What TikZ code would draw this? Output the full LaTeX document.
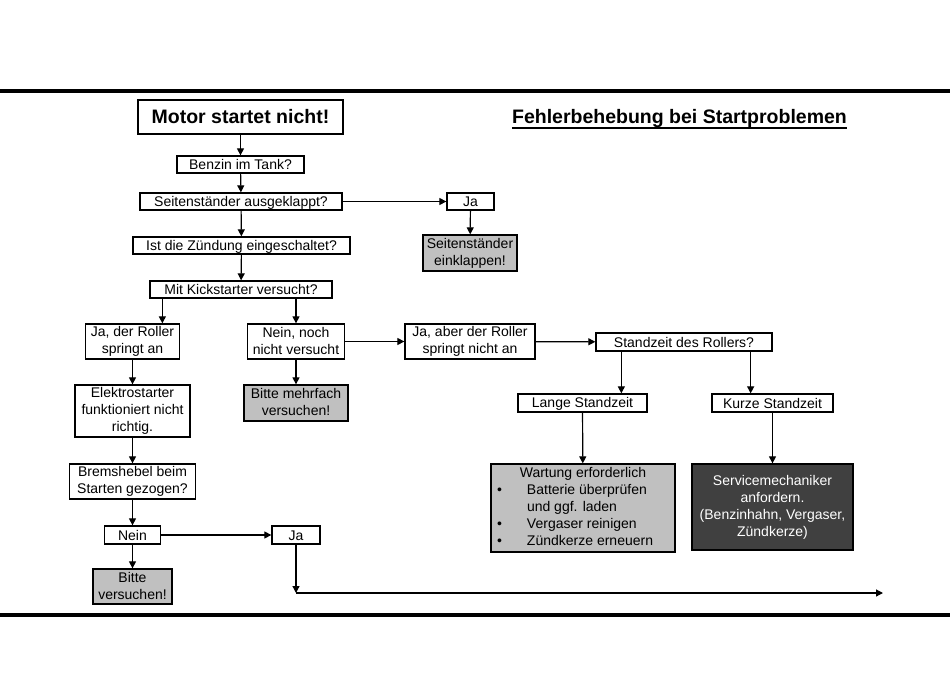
\documentclass[tikz,border=0pt]{standalone}
\usepackage{fontspec}
\setmainfont{Liberation Sans}
\usetikzlibrary{arrows.meta}
\usepackage{xcolor}
\definecolor{hellgrau}{HTML}{C0C0C0}
\definecolor{dunkelgrau}{HTML}{404040}
% gleiche Hoehe fuer jede Zeile
\newcommand{\zeilenstrut}{\rule[-2pt]{0pt}{14pt}}

\begin{document}
\begin{tikzpicture}[x=1pt, y=-1pt]
        % ================= Stile =================
        \tikzset{
            % normale Kaestchen
            box/.style={draw=black, line width=1.3pt, fill=white, align=center, inner sep=0pt, font=\fontsize{14}{17}\selectfont,
                execute at begin node=\zeilenstrut, execute at end node=\zeilenstrut},
            % Hinweis-Kaestchen (hellgrau)
            graubox/.style={box, fill=hellgrau},
            % Werkstatt-Kaestchen (dunkel)
            dunkelbox/.style={box, fill=dunkelgrau, text=white},
            % fette Ueberschriften
            kopf/.style={font=\fontsize{19.5}{22}\selectfont\bfseries, inner sep=0pt},
            % Pfeile
            pfeil/.style={line width=1.2pt, -{Triangle[length=7pt, width=7pt]}},
            % Balken oben und unten
            balken/.style={line width=3.6pt}
        }
        \useasboundingbox (0,0) rectangle (950,677);

        % ================= 1. Balken und Titel =================
        \draw[balken] (0,91) -- (950,91);
        \draw[balken] (0,614.7) -- (950,614.7);
        \node[kopf, anchor=base] (titel) at (679.5,123) {Fehlerbehebung bei Startproblemen};
        \draw[line width=1.8pt] ([yshift=-5]titel.base west) -- ([yshift=-5]titel.base east); % unterstrichen

        % ================= 2. Hauptstrang =================
        \node[box, kopf, line width=2pt, minimum width=205, minimum height=34] (motor) at (240.5,117) {Motor startet nicht!};
        \node[box, minimum width=127, minimum height=17] (benzin) at (240.5,164.5) {Benzin im Tank?};
        \node[box, minimum width=202, minimum height=17] (seiten) at (241,201.5) {Seitenständer ausgeklappt?};
        \node[box, minimum width=217, minimum height=17] (zuendung) at (241.5,245.5) {Ist die Zündung eingeschaltet?};
        \node[box, minimum width=182, minimum height=17] (kick) at (241,289.5) {Mit Kickstarter versucht?};

        % Seitenstaender
        \node[box, minimum width=47, minimum height=17] (ja_seiten) at (470.5,201.5) {Ja};
        \node[graubox, minimum width=94, minimum height=36] (einklappen) at (470,253) {Seitenständer\\einklappen!};

        % ================= 3. linker Zweig =================
        \node[box, minimum width=94, minimum height=35] (ja_an) at (132.5,341.5) {Ja, der Roller\\springt an};
        \node[box, minimum width=115, minimum height=52] (elektro) at (132.5,411) {Elektrostarter\\funktioniert nicht\\richtig.};
        \node[box, minimum width=126, minimum height=35] (brems) at (132.5,481.5) {Bremshebel beim\\Starten gezogen?};
        \node[box, minimum width=56, minimum height=18] (nein_brems) at (132.5,535) {Nein};
        \node[box, minimum width=48, minimum height=18] (ja_brems) at (296,535) {Ja};
        \node[graubox, minimum width=79, minimum height=35] (bitte) at (132.5,586.5) {Bitte\\versuchen!};

        % ================= 4. mittlerer Zweig =================
        \node[box, minimum width=97, minimum height=35] (nein_kick) at (296,341.5) {Nein, noch\\nicht versucht};
        \node[graubox, minimum width=104, minimum height=36] (mehrfach) at (296,403) {Bitte mehrfach\\versuchen!};
        \node[box, minimum width=130, minimum height=35] (ja_aber) at (470,341.5) {Ja, aber der Roller\\springt nicht an};

        % ================= 5. Standzeit =================
        \node[box, minimum width=176, minimum height=18] (standzeit) at (684,342) {Standzeit des Rollers?};
        \node[box, minimum width=129, minimum height=18] (lange) at (582.5,403) {Lange Standzeit};
        \node[box, minimum width=121, minimum height=18] (kurze) at (772.5,403) {Kurze Standzeit};
        \node[graubox, minimum width=184, minimum height=88, inner xsep=6pt] (wartung) at (583,508)
            {\begin{tabular}{@{}p{30pt}@{}p{142pt}@{}}
                \multicolumn{2}{@{}c@{}}{Wartung erforderlich}\\
                •&Batterie überprüfen\\
                 &und ggf. laden\\
                •&Vergaser reinigen\\
                •&Zündkerze erneuern
            \end{tabular}};
        \node[dunkelbox, minimum width=161, minimum height=86] (service) at (772.5,507) {Servicemechaniker\\anfordern.\\(Benzinhahn, Vergaser,\\Zündkerze)};

        % ================= 6. Pfeile =================
        \draw[pfeil] (motor) -- (benzin);
        \draw[pfeil] (benzin) -- (seiten);
        \draw[pfeil] (seiten) -- (zuendung);
        \draw[pfeil] (zuendung) -- (kick);
        \draw[pfeil] (seiten) -- (ja_seiten);
        \draw[pfeil] (ja_seiten) -- (einklappen);

        % --- Kickstarter verzweigt (nicht mittig) ---
        \coordinate (kick_l) at ([xshift=13]kick.south west);
        \draw[pfeil] (kick_l) -- (kick_l |- ja_an.north);
        \draw[pfeil] (nein_kick.north |- kick.south) -- (nein_kick);

        \draw[pfeil] (ja_an) -- (elektro);
        \draw[pfeil] (elektro) -- (brems);
        \draw[pfeil] (brems) -- (nein_brems);
        \draw[pfeil] (nein_brems) -- (bitte);
        \draw[pfeil] (nein_brems) -- (ja_brems);
        \draw[pfeil] (nein_kick) -- (mehrfach);
        \draw[pfeil] (nein_kick) -- (ja_aber);
        \draw[pfeil] (ja_aber) -- (standzeit);

        % --- Standzeit verzweigt ---
        \coordinate (stand_l) at ([xshift=26]standzeit.south west);
        \coordinate (stand_r) at ([xshift=-22]standzeit.south east);
        \draw[pfeil] (stand_l) -- (stand_l |- lange.north);
        \draw[pfeil] (stand_r) -- (stand_r |- kurze.north);
        \draw[pfeil] (lange) -- (wartung);
        \draw[pfeil] (kurze) -- (service);

        % --- Ja beim Bremshebel: nach unten und nach rechts ---
        \coordinate (ecke) at (ja_brems.south |- 0,593);
        \coordinate (ende) at (883,593);
        \draw[pfeil] (ja_brems) -- (ecke);
        \draw[pfeil] (ecke) -- (ende);

\end{tikzpicture}
\end{document}
